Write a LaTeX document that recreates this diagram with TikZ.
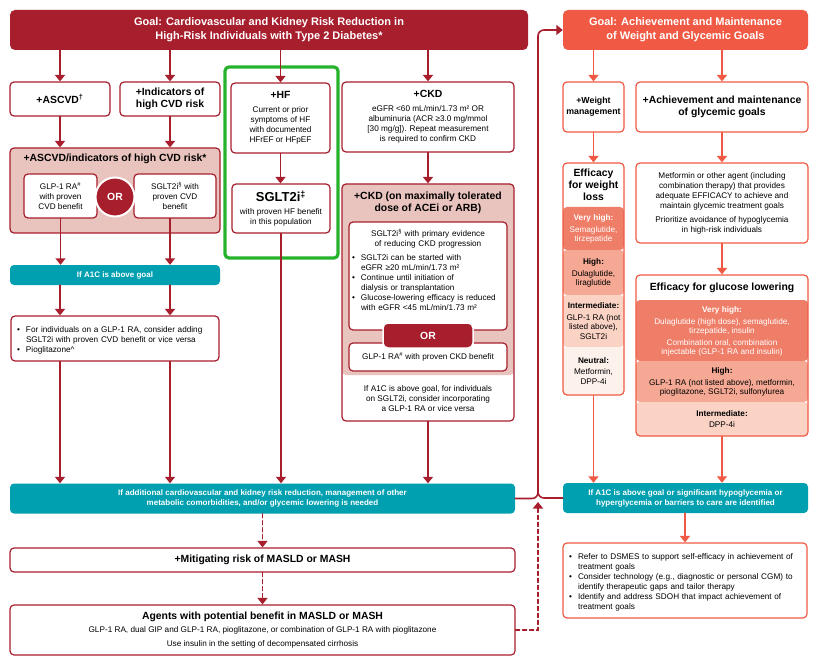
\documentclass[tikz,border=0pt]{standalone}
\usepackage{fontspec}
\setmainfont{Liberation Sans}
\usepackage{tikz}
\usetikzlibrary{arrows.meta}
\usepackage{xcolor}
\definecolor{dred}{RGB}{167,30,45}
\definecolor{pinkbg}{RGB}{233,195,189}
\definecolor{tealbar}{RGB}{0,160,176}
\definecolor{ored}{RGB}{240,90,68}
\definecolor{hfgreen}{RGB}{38,178,44}
\definecolor{vhc}{RGB}{239,126,104}
\definecolor{hic}{RGB}{245,169,148}
\definecolor{imc}{RGB}{250,211,197}
\definecolor{nec}{RGB}{253,241,236}
\newcommand{\fsz}[2]{\fontsize{#1}{#2}\selectfont}
\newcommand{\itm}[1]{\par\hangindent=9pt\hangafter=1\noindent\makebox[9pt][l]{\textbullet}#1\par}

\begin{document}
\begin{tikzpicture}[x=1pt,y=-1pt,>={Triangle[width=10pt,length=6.5pt]},font=\fsz{8.2}{10},line cap=round,
  box/.style={draw=dred,line width=1.2pt,rounded corners=4pt,fill=white,inner sep=2pt,align=center},
  obox/.style={box,draw=ored},
  goalbox/.style={rounded corners=5pt,text=white,align=center,font=\bfseries\fsz{11}{14}},
  tealbox/.style={rounded corners=4pt,fill=tealbar,text=white,align=center,font=\bfseries\fsz{8}{10}},
  hd/.style={font=\bfseries\fsz{10.4}{12.5}},
  row/.style={align=center,font=\fsz{8.2}{9.4}},
  arr/.style={->,dred,line width=1.6pt},
  oarr/.style={->,ored,line width=1.6pt},
  darr/.style={arr,dash pattern=on 4pt off 3pt}]
\useasboundingbox (0,0) rectangle (820,666);

\node[goalbox,fill=dred,minimum width=518pt,minimum height=40pt] (goalL) at (269,30) {Goal: Cardiovascular and Kidney Risk Reduction in\\High-Risk Individuals with Type 2 Diabetes*};
\node[goalbox,fill=ored,minimum width=245pt,minimum height=40pt] (goalR) at (685.5,30) {Goal: Achievement and Maintenance\\of Weight and Glycemic Goals};

\node[box,hd,minimum width=100pt,minimum height=34pt] (ascvd) at (60,99) {+ASCVD\textsuperscript{†}};
\node[box,hd,minimum width=100pt,minimum height=34pt] (ind) at (170,99) {+Indicators of\\high CVD risk};
\node[draw=hfgreen,line width=3.2pt,rounded corners=4pt,minimum width=113pt,minimum height=191pt] (hfzone) at (281.5,162.5) {};
\node[box,minimum width=99pt,minimum height=70pt] (hf) at (280.5,118) {{\bfseries\fsz{10.4}{12.5}+HF}\\[4pt]Current or prior\\symptoms of HF\\with documented\\HFrEF or HFpEF};
\node[box,minimum width=172pt,minimum height=70pt] (ckd) at (428,117) {{\bfseries\fsz{10.4}{12.5}+CKD}\\[4pt]eGFR <60 mL/min/1.73 m² OR\\albuminuria (ACR ≥3.0 mg/mmol\\{[}30 mg/g{]}). Repeat measurement\\is required to confirm CKD};

\node[box,fill=pinkbg,minimum width=210pt,minimum height=85pt] (ascvdbox) at (115,190.5) {};
\node[hd] (ascvdt) at (115,159) {+ASCVD/indicators of high CVD risk*};
\node[box,minimum width=73pt,minimum height=44pt] (glp) at (60.5,196) {GLP-1 RA\textsuperscript{\#}\\with proven\\CVD benefit};
\node[box,minimum width=82pt,minimum height=44pt] (sglt) at (175,196) {SGLT2i\textsuperscript{§} with\\proven CVD\\benefit};
\node[circle,fill=dred,draw=white,line width=2pt,minimum size=39pt,inner sep=0pt,text=white,font=\bfseries\fsz{10.4}{12}] (or1) at (115,197) {OR};
\node[tealbox,minimum width=210pt,minimum height=20pt] (a1c) at (115,275) {If A1C is above goal};
\node[box,text width=196pt,align=left,inner xsep=6pt,minimum height=45pt] (bul1) at (115,338.5) {\itm{For individuals on a GLP-1 RA, consider adding\newline SGLT2i with proven CVD benefit or vice versa}\itm{Pioglitazone\textasciicircum}};

\node[box,minimum width=98pt,minimum height=49pt] (sgltHF) at (281,208.5) {{\bfseries\fsz{13}{15}SGLT2i\textsuperscript{‡}}\\[3pt]with proven HF benefit\\in this population};

\node[box,minimum width=172pt,minimum height=237pt,path picture={\fill[pinkbg] (path picture bounding box.north west) rectangle ([yshift=46pt]path picture bounding box.south east);}] (ckdacei) at (428,302.5) {};
\node[hd,align=center] (ckdt) at (428,203) {+CKD (on maximally tolerated\\dose of ACEi or ARB)};
\node[box,minimum width=158pt,minimum height=108pt] (ckdsg) at (428,276) {};
\node[text width=152pt,align=left,inner sep=0pt] (ckdsgt) at (428,270) {{\centering SGLT2i\textsuperscript{§} with primary evidence\\of reducing CKD progression\par}\vspace{4pt}\itm{SGLT2i can be started with\newline eGFR ≥20 mL/min/1.73 m²}\itm{Continue until initiation of\newline dialysis or transplantation}\itm{Glucose-lowering efficacy is reduced\newline with eGFR <45 mL/min/1.73 m²}};
\node[box,minimum width=158pt,minimum height=28pt] (glpckd) at (428,357) {\raisebox{-3pt}{GLP-1 RA\textsuperscript{\#} with proven CKD benefit}};
\node[fill=dred,draw=white,line width=1.5pt,rounded corners=5pt,minimum width=90pt,minimum height=25pt,text=white,font=\bfseries\fsz{10.4}{12}] (or2) at (428,335.5) {OR};
\node[align=center] (ckdb) at (428,399) {If A1C is above goal, for individuals\\on SGLT2i, consider incorporating\\a GLP-1 RA or vice versa};

\node[tealbox,minimum width=505pt,minimum height=30pt] (tealL) at (262.5,498.5) {If additional cardiovascular and kidney risk reduction, management of other\\metabolic comorbidities, and/or glycemic lowering is needed};
\node[box,hd,minimum width=505pt,minimum height=24pt] (mit) at (262.5,560) {+Mitigating risk of MASLD or MASH};
\node[box,minimum width=505pt,minimum height=50pt] (agents) at (262.5,630) {{\bfseries\fsz{10.4}{12.5}Agents with potential benefit in MASLD or MASH}\\[3pt]GLP-1 RA, dual GIP and GLP-1 RA, pioglitazone, or combination of GLP-1 RA with pioglitazone\\[4pt]Use insulin in the setting of decompensated cirrhosis};

\node[obox,font=\bfseries\fsz{8.8}{11},minimum width=61pt,minimum height=50pt,inner sep=1pt] (weight) at (593.5,107) {+Weight\\management};
\node[obox,hd,minimum width=172pt,minimum height=50pt] (glyc) at (722,107) {+Achievement and maintenance\\of glycemic goals};

\node[obox,minimum width=61pt,minimum height=232pt,path picture={
  \fill[vhc] ([yshift=-44pt]path picture bounding box.north west) rectangle ([yshift=-87pt]path picture bounding box.north east);
  \fill[hic] ([yshift=-87pt]path picture bounding box.north west) rectangle ([yshift=-132pt]path picture bounding box.north east);
  \fill[imc] ([yshift=-132pt]path picture bounding box.north west) rectangle ([yshift=-184pt]path picture bounding box.north east);
  \fill[nec] ([yshift=-184pt]path picture bounding box.north west) rectangle (path picture bounding box.south east);}] (effw) at (593.5,279) {};
\node[font=\bfseries\fsz{10.4}{12},align=center] (effwh) at (593.5,185) {Efficacy\\for weight\\loss};
\node[row,text=white] (effw1) at (593.5,229) {{\bfseries Very high:}\\[2pt]Semaglutide,\\tirzepatide};
\node[row] (effw2) at (593.5,273) {{\bfseries High:}\\[2pt]Dulaglutide,\\liraglutide};
\node[row] (effw3) at (593.5,321) {{\bfseries Intermediate:}\\[2pt]GLP-1 RA (not\\listed above),\\SGLT2i};
\node[row] (effw4) at (593.5,371) {{\bfseries Neutral:}\\[2pt]Metformin,\\DPP-4i};

\node[obox,minimum width=172pt,minimum height=80pt] (met) at (722,203) {Metformin or other agent (including\\combination therapy) that provides\\adequate EFFICACY to achieve and\\maintain glycemic treatment goals\\[4pt]Prioritize avoidance of hypoglycemia\\in high-risk individuals};

\node[obox,minimum width=172pt,minimum height=161pt,path picture={
  \fill[vhc] ([yshift=-25pt]path picture bounding box.north west) rectangle ([yshift=-86pt]path picture bounding box.north east);
  \fill[hic] ([yshift=-86pt]path picture bounding box.north west) rectangle ([yshift=-127pt]path picture bounding box.north east);
  \fill[imc] ([yshift=-127pt]path picture bounding box.north west) rectangle (path picture bounding box.south east);}] (effg) at (722,355.5) {};
\node[font=\bfseries\fsz{10.4}{12}] (effgh) at (722,287.5) {Efficacy for glucose lowering};
\node[row,text=white,font=\fsz{8.2}{9}] (effg1) at (722,331) {{\bfseries Very high:}\\[3pt]Dulaglutide (high dose), semaglutide,\\tirzepatide, insulin\\[3pt]Combination oral, combination\\injectable (GLP-1 RA and insulin)};
\node[row,font=\fsz{8.2}{9}] (effg2) at (722,382) {{\bfseries High:}\\[3pt]GLP-1 RA (not listed above), metformin,\\pioglitazone, SGLT2i, sulfonylurea};
\node[row] (effg3) at (722,419) {{\bfseries Intermediate:}\\[2pt]DPP-4i};

\node[tealbox,minimum width=245pt,minimum height=30pt] (tealR) at (685.5,498) {If A1C is above goal or significant hypoglycemia or\\hyperglycemia or barriers to care are identified};
\node[obox,text width=232pt,align=left,inner xsep=6pt,minimum height=75pt] (bulR) at (685,580.5) {\itm{Refer to DSMES to support self-efficacy in achievement of\newline treatment goals}\itm{Consider technology (e.g., diagnostic or personal CGM) to\newline identify therapeutic gaps and tailor therapy}\itm{Identify and address SDOH that impact achievement of\newline treatment goals}};

\coordinate (jn) at (538,498);
\coordinate (jm) at (538,470);
\coordinate (jd) at (538,502);

\draw[arr] (ascvd.north |- goalL.south) -- (ascvd.north);
\draw[arr] (ind.north |- goalL.south) -- (ind.north);
\draw[arr] (hf.north |- goalL.south) -- (hf.north);
\draw[arr] (ckd.north |- goalL.south) -- (ckd.north);
\draw[arr] (ascvd.south) -- (ascvd.south |- ascvdbox.north);
\draw[arr] (ind.south) -- (ind.south |- ascvdbox.north);
\draw[arr] (glp.south) -- (glp.south |- a1c.north);
\draw[arr] (ind.south |- sglt.south) -- (ind.south |- a1c.north);
\draw[arr] (ascvd.south |- a1c.south) -- (ascvd.south |- bul1.north);
\draw[arr] (ind.south |- a1c.south) -- (ind.south |- bul1.north);
\draw[arr] (ascvd.south |- bul1.south) -- (ascvd.south |- tealL.north);
\draw[arr] (ind.south |- bul1.south) -- (ind.south |- tealL.north);
\draw[arr] (hf.south) -- (hf.south |- sgltHF.north);
\draw[arr] (sgltHF.south) -- (sgltHF.south |- tealL.north);
\draw[arr] (ckd.south) -- (ckd.south |- ckdacei.north);
\draw[arr] (ckdacei.south) -- (ckdacei.south |- tealL.north);
\draw[darr] (mit.north |- tealL.south) -- (mit.north);
\draw[darr] (mit.south) -- (agents.north);
\draw[darr] (agents.east) -| (jd);
\draw[arr,rounded corners=6pt] (tealL.east) -| (jn |- goalR.west) -- (goalR.west);
\draw[dred,line width=1.6pt,rounded corners=6pt] (tealR.west) -| (jm);

\draw[oarr] (weight.north |- goalR.south) -- (weight.north);
\draw[oarr] (glyc.north |- goalR.south) -- (glyc.north);
\draw[oarr] (weight.south) -- (effw.north);
\draw[oarr] (glyc.south) -- (met.north);
\draw[oarr] (met.south) -- (effg.north);
\draw[oarr] (effw.south) -- (effw.south |- tealR.north);
\draw[oarr] (effg.south) -- (effg.south |- tealR.north);
\draw[oarr] (bulR.north |- tealR.south) -- (bulR.north);
\end{tikzpicture}
\end{document}
